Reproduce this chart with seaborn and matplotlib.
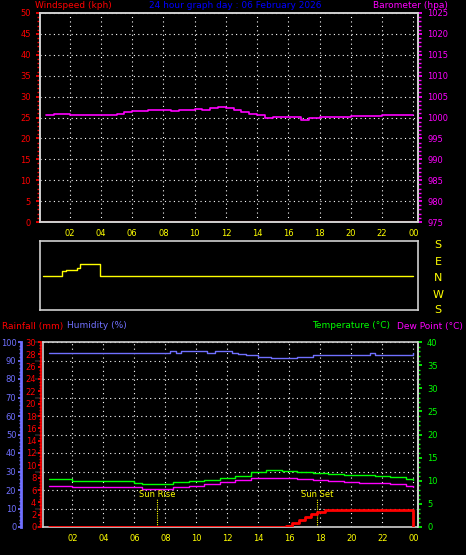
import matplotlib
matplotlib.use("Agg")
import matplotlib.pyplot as plt
import seaborn as sns
import numpy as np
import pandas as pd
from matplotlib.ticker import MultipleLocator

sns.set_theme(style="dark")
plt.rcParams['font.family'] = ['DejaVu Sans']

baro_h = [0.5, 1, 2, 3, 4, 5, 5.5, 6, 7, 8, 8.5, 9, 10, 10.5, 11, 11.5, 12, 12.5, 13, 13.5, 14, 14.5, 15, 16, 16.8, 17.3, 18, 19, 20, 21, 22, 23, 24]
baro_v = [1000.6, 1000.8, 1000.7, 1000.5, 1000.6, 1000.9, 1001.2, 1001.6, 1001.9, 1001.9, 1001.6, 1001.7, 1002.0, 1001.8, 1002.3, 1002.4, 1002.3, 1001.7, 1001.3, 1000.9, 1000.5, 999.8, 1000.2, 1000.1, 999.5, 999.8, 1000.2, 1000.2, 1000.4, 1000.4, 1000.5, 1000.7, 1000.7]
wind_h = [0.0, 0.8, 1.2, 1.5, 2.2, 2.4, 3.5, 3.7, 24.0]
wind_v = [0, 0, 25, 30, 40, 60, 60, 0, 0]
hum_h = [0.5, 8, 8.3, 8.7, 9, 10.3, 10.7, 11.2, 12.3, 12.7, 13.2, 14, 14.8, 15.2, 16.5, 17.5, 18, 20.8, 21.2, 21.5, 24]
hum_v = [94, 94, 95, 94, 95, 95, 94, 95, 94, 93.5, 93, 92, 91.5, 91.5, 92, 93, 93, 93, 94, 93, 94]
temp_h = [0.5, 2, 4, 6, 6.5, 7.5, 8.5, 9.5, 10.5, 11.5, 12.5, 13.5, 14.5, 15, 15.5, 16.5, 17.5, 18.5, 19.5, 20.5, 21.5, 22.5, 23.5, 24]
temp_v = [10.3, 10.0, 10.0, 9.6, 9.3, 9.4, 9.7, 9.9, 10.2, 10.6, 11.1, 11.8, 12.3, 12.4, 12.2, 12.0, 11.7, 11.5, 11.3, 11.3, 11.0, 10.8, 10.4, 10.1]
dew_h = [0.5, 2, 4, 6, 6.5, 7.5, 8.5, 9.5, 10.5, 11.5, 12.5, 13.5, 14.5, 15, 15.5, 16.5, 17.5, 18.5, 19.5, 20.5, 21.5, 22.5, 23.5, 24]
dew_v = [8.8, 8.6, 8.6, 8.6, 8.2, 8.2, 8.7, 8.9, 9.2, 9.7, 10.1, 10.5, 10.7, 10.7, 10.6, 10.3, 10.1, 10.0, 9.8, 9.6, 9.6, 9.4, 8.9, 8.6]
rain_h = [0.5, 15.5, 15.8, 16.2, 16.6, 17.0, 17.4, 17.8, 18.3, 23.9, 23.95, 24.0]
rain_v = [0.0, 0.0, 0.2, 0.6, 1.1, 1.6, 2.1, 2.4, 2.8, 2.8, 0.0, 0.0]
hour_ticks = [2, 4, 6, 8, 10, 12, 14, 16, 18, 20, 22, 24]
hour_labels = ["02", "04", "06", "08", "10", "12", "14", "16", "18", "20", "22", "00"]
sunrise, sunset = 7.45, 17.8

W, H = 466, 555
fig = plt.figure(figsize=(W/100, H/100), dpi=100, facecolor='black')

def px(x0, y0, x1, y1):
    return [x0/W, 1 - y1/H, (x1-x0)/W, (y1-y0)/H]

FS = 6
TFS = 6.5
YEL = '#ffff00'
MAG = '#ff00ff'
RED = '#ff0000'
GRN = '#00ff00'
BLU = '#7070ff'

def style(ax, grid=True):
    ax.set_facecolor('black')
    for s in ax.spines.values():
        s.set_color('#d0d0d0'); s.set_linewidth(1.2)
    ax.set_xlim(0.1, 24.3)
    ax.set_xticks(hour_ticks)
    ax.set_xticklabels(hour_labels, color=YEL, fontsize=FS)
    ax.tick_params(axis='x', colors=YEL, length=3, pad=2, labelsize=FS)
    if grid:
        ax.grid(True, color='white', linestyle=(0, (1, 3)), linewidth=0.8)
    ax.set_xlabel(''); ax.set_ylabel('')

# ---- Top panel
ax1 = fig.add_axes(px(40, 13, 418, 222))
style(ax1)
ax1.set_ylim(0, 50)
ax1.yaxis.set_major_locator(MultipleLocator(5))
ax1.yaxis.set_minor_locator(MultipleLocator(1))
ax1.tick_params(axis='y', colors=RED, labelcolor=RED, labelsize=FS, length=3)
ax1.tick_params(axis='y', which='minor', colors=RED, length=2, left=True)
ax1.axhline(0.05, color=RED, lw=1.5)
ax1b = ax1.twinx()
sns.lineplot(x=baro_h, y=baro_v, ax=ax1b, color=MAG, lw=1.2, drawstyle='steps-post')
ax1b.set_ylim(975, 1025)
ax1b.yaxis.set_major_locator(MultipleLocator(5))
ax1b.yaxis.set_minor_locator(MultipleLocator(1))
ax1b.tick_params(axis='y', which='both', colors=MAG, labelcolor=MAG, labelsize=FS, length=3)
ax1b.tick_params(axis='y', which='minor', length=2)
ax1b.set_xlabel(''); ax1b.set_ylabel('')
for s in ax1b.spines.values():
    s.set_color('#d0d0d0'); s.set_linewidth(1.2)
ax1b.grid(False)
fig.text(35/W, 1-5/H, "Windspeed (kph)", color=RED, fontsize=TFS, va='center')
fig.text(235/W, 1-5/H, "24 hour graph day : 06 February 2026", color='#0000ff', fontsize=TFS, va='center', ha='center')
fig.text(448/W, 1-5/H, "Barometer (hpa)", color=MAG, fontsize=TFS, va='center', ha='right')

# ---- Wind direction panel
ax2 = fig.add_axes(px(40, 241, 418, 310))
ax2.set_facecolor('black')
sns.lineplot(x=wind_h, y=wind_v, ax=ax2, color=YEL, lw=1.0, drawstyle='steps-post')
ax2.set_xlim(-0.2, 24.3); ax2.set_ylim(-180, 180)
ax2.set_xticks([]); ax2.set_yticks([])
ax2.set_xlabel(''); ax2.set_ylabel('')
for s in ax2.spines.values():
    s.set_color('#d0d0d0'); s.set_linewidth(1.2)
for lab, yy in zip("SENWS", [245, 262, 278, 295, 310]):
    fig.text(438/W, 1-yy/H, lab, color=YEL, fontsize=8, ha='center', va='center')

# ---- Bottom panel
ax3 = fig.add_axes(px(43, 342, 418, 527))
style(ax3)
ax3.set_ylim(0, 100)
ax3.yaxis.set_major_locator(MultipleLocator(10))
ax3.tick_params(axis='y', left=False, labelleft=False)
sns.lineplot(x=hum_h, y=hum_v, ax=ax3, color=BLU, lw=1.0, drawstyle='steps-post')
ax3.set_xlabel(''); ax3.set_ylabel('')
ax3.axvline(sunrise, ymax=0.15, color=YEL, ls=(0, (1, 1)), lw=0.8)
ax3.axvline(sunset, ymax=0.15, color=YEL, ls=(0, (1, 1)), lw=0.8)
ax3.text(sunrise, 16, "Sun Rise", color=YEL, fontsize=FS, ha='center')
ax3.text(sunset, 16, "Sun Set", color=YEL, fontsize=FS, ha='center')

axh = ax3.twinx()
axh.set_ylim(0, 100)
axh.yaxis.set_label_position('left'); axh.yaxis.tick_left()
axh.spines['left'].set_position(('axes', -0.058))
axh.spines['left'].set_color(BLU); axh.spines['left'].set_linewidth(2)
for k in ['right', 'top', 'bottom']:
    axh.spines[k].set_visible(False)
axh.yaxis.set_major_locator(MultipleLocator(10))
axh.yaxis.set_minor_locator(MultipleLocator(2))
axh.tick_params(axis='y', which='both', colors=BLU, labelcolor=BLU, labelsize=FS, length=2.5, pad=1)
axh.tick_params(axis='y', which='minor', length=1.5)
axh.grid(False)

axr = ax3.twinx()
sns.lineplot(x=rain_h, y=rain_v, ax=axr, color=RED, lw=2.0, drawstyle='steps-post')
axr.set_ylim(0, 30)
axr.yaxis.set_label_position('left'); axr.yaxis.tick_left()
axr.spines['left'].set_position(('axes', -0.005))
axr.spines['left'].set_color(RED); axr.spines['left'].set_linewidth(1.2)
for k in ['right', 'top', 'bottom']:
    axr.spines[k].set_visible(False)
axr.yaxis.set_major_locator(MultipleLocator(2))
axr.yaxis.set_minor_locator(MultipleLocator(0.5))
axr.tick_params(axis='y', which='both', colors=RED, labelcolor=RED, labelsize=FS, length=2.5, pad=1)
axr.tick_params(axis='y', which='minor', length=1.5)
axr.set_xlabel(''); axr.set_ylabel(''); axr.grid(False)

axt = ax3.twinx()
sns.lineplot(x=temp_h, y=temp_v, ax=axt, color=GRN, lw=1.0, drawstyle='steps-post')
sns.lineplot(x=dew_h, y=dew_v, ax=axt, color=MAG, lw=1.0, drawstyle='steps-post')
axt.set_ylim(0, 40)
axt.yaxis.set_major_locator(MultipleLocator(5))
axt.yaxis.set_minor_locator(MultipleLocator(1))
axt.tick_params(axis='y', which='both', colors=GRN, labelcolor=GRN, labelsize=FS, length=3)
axt.tick_params(axis='y', which='minor', length=1.5)
for k in ['left', 'top', 'bottom']:
    axt.spines[k].set_visible(False)
axt.spines['right'].set_color('#d0d0d0'); axt.spines['right'].set_linewidth(1.2)
axt.set_xlabel(''); axt.set_ylabel(''); axt.grid(False)

fig.text(2/W, 1-326/H, "Rainfall (mm)", color=RED, fontsize=TFS, va='center')
fig.text(67/W, 1-326/H, "Humidity (%)", color=BLU, fontsize=TFS, va='center')
fig.text(312/W, 1-326/H, "Temperature (°C)", color=GRN, fontsize=TFS, va='center')
fig.text(463/W, 1-326/H, "Dew Point (°C)", color=MAG, fontsize=TFS, va='center', ha='right')

fig.savefig("out.png", dpi=100, facecolor='black')
